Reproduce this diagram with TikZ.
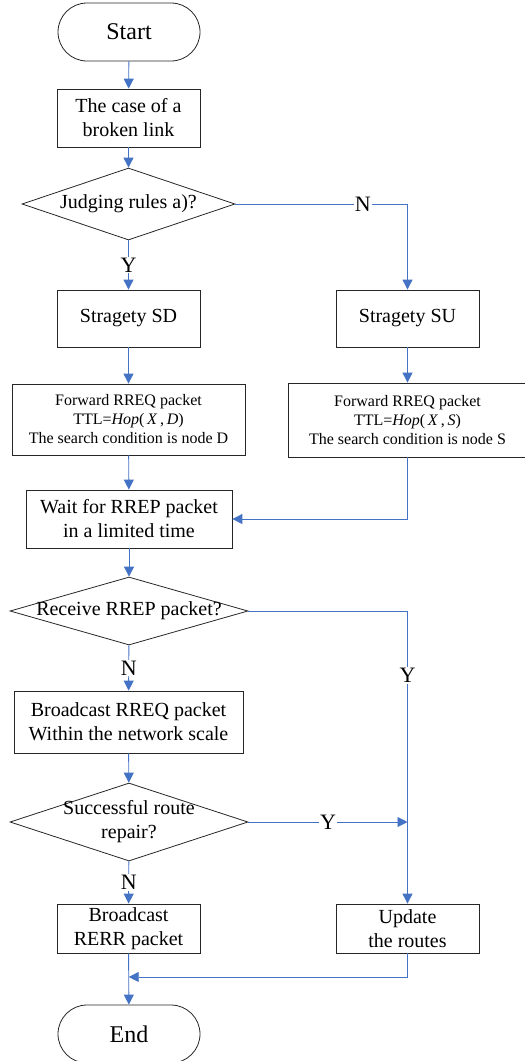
\documentclass[tikz,border=0pt]{standalone}
\usepackage{fontspec}
\setmainfont{Liberation Serif}
\usetikzlibrary{arrows.meta,shapes.geometric,calc}
\definecolor{lineblue}{RGB}{68,114,196}

\begin{document}
\begin{tikzpicture}[x=1pt,y=-1pt]
\tikzstyle{term} = [draw=black!85, line width=0.8pt, rectangle, rounded corners=29pt, minimum width=142pt, minimum height=58pt, font=\fontsize{24}{28}\selectfont]
\tikzstyle{proc} = [draw=black!85, line width=0.8pt, rectangle, align=center, inner sep=0pt, font=\fontsize{20}{24}\selectfont]
\tikzstyle{note} = [proc, font=\fontsize{16}{19}\selectfont]
\tikzstyle{decision} = [draw=black!85, line width=0.8pt, diamond, inner sep=0pt]
\tikzstyle{every label} = [font=\fontsize{20}{24}\selectfont, align=center, inner sep=0pt]
\tikzstyle{flow} = [draw=lineblue, line width=0.9pt, -{Triangle[length=10pt,width=10pt]}]
\tikzstyle{yn} = [fill=white, inner sep=1pt, font=\fontsize{22}{26}\selectfont]
\useasboundingbox (0,0) rectangle (525,1061);

\node[term] (start) at (129,32) {Start};
\node[proc, minimum width=143pt, minimum height=58pt] (case) at (128.5,118) {The case of a\\broken link};
\node[decision, minimum width=213pt, minimum height=72pt, label={center:Judging rules a)?}] (judge) at (128.5,204) {};
\node[proc, minimum width=143pt, minimum height=57pt] (sd) at (128.5,318.5) {Stragety SD};
\node[proc, minimum width=143pt, minimum height=57pt] (su) at (407.5,318.5) {Stragety SU};
\node[note, minimum width=233pt, minimum height=71pt] (fwdd) at (128.5,419.5)
    {Forward RREQ packet\\TTL=\textit{Hop}(\,\textit{X}\,,\,\textit{D})\\The search condition is node D};
\node[note, minimum width=238pt, minimum height=74pt] (fwds) at (407.5,420)
    {Forward RREQ packet\\TTL=\textit{Hop}(\,\textit{X}\,,\,\textit{S})\\The search condition is node S};
\node[proc, minimum width=206pt, minimum height=58pt] (wait) at (129,519) {Wait for RREP packet\\in a limited time};
\node[decision, minimum width=238pt, minimum height=68pt, label={center:Receive RREP packet?}] (recv) at (129,611) {};
\node[proc, minimum width=229pt, minimum height=62pt] (bcast) at (128.5,722) {Broadcast RREQ packet\\Within the network scale};
\node[decision, minimum width=238pt, minimum height=78pt, label={center:Successful route\\repair?}] (repair) at (129,822) {};
\node[proc, minimum width=143pt, minimum height=49pt] (rerr) at (128.5,928.5) {Broadcast\\RERR packet};
\node[proc, minimum width=143pt, minimum height=49pt] (update) at (407.5,928.5) {Update\\the routes};
\node[term] (stop) at (129,1034) {End};
\coordinate (merge) at ($(rerr.south)!0.46!(stop.north)$);

\draw[flow] (start) -- (case);
\draw[flow] (case) -- (judge);
\draw[flow] (judge) -- node[yn]{Y} (sd);
\draw[flow] (judge.east) -| node[yn, pos=0.37]{N} (su);
\draw[flow] (sd) -- (fwdd);
\draw[flow] (su) -- (fwds);
\draw[flow] (fwdd) -- (wait);
\draw[flow] (fwds.south) |- (wait.east);
\draw[flow] (wait) -- (recv);
\draw[flow] (recv) -- node[yn]{N} (bcast);
\draw[flow] (recv.east) -| node[yn, pos=0.61]{Y} (update);
\draw[flow] (bcast) -- (repair);
\draw[flow] (repair.east) -- node[yn]{Y} (repair.east -| update);
\draw[flow] (repair) -- node[yn]{N} (rerr);
\draw[flow] (rerr) -- (stop);
\draw[flow] (update.south) |- (merge);
\end{tikzpicture}
\end{document}
